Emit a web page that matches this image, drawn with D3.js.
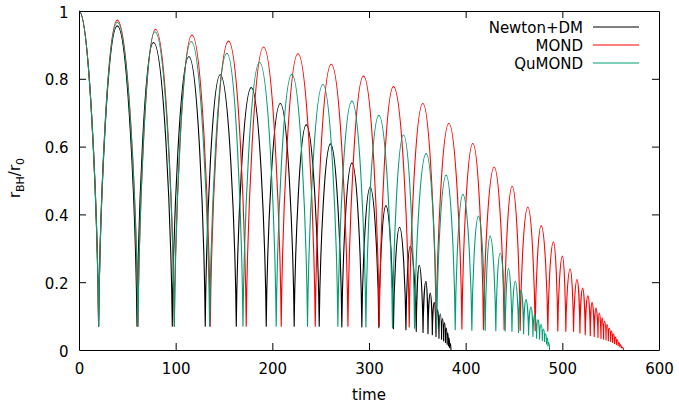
<!DOCTYPE html>
<html><head><meta charset="utf-8">
<script src="https://cdn.jsdelivr.net/npm/d3@7"></script>
<style>
body{margin:0;background:#fff}
svg{display:block}
text{font-family:"DejaVu Sans",sans-serif;font-size:15px;fill:#000}
</style>
</head><body>
<svg id="chart" width="679" height="403"></svg>
<script>
// ---- data ----
const xTicks = [0, 100, 200, 300, 400, 500, 600];
const yTicks = [0, 0.2, 0.4, 0.6, 0.8, 1];
const yTickLabels = ["0", "0.2", "0.4", "0.6", "0.8", "1"];
const seriesNames = ["Newton+DM", "MOND", "QuMOND"];
const seriesColors = ["#000000", "#ff0000", "#009e73"];

// Newton+DM : peaks and troughs (time, r_BH/r_0)
const newtonPeakT = [0, 39.6, 77.1, 113.7, 146.1, 178.2, 208.2, 235.1, 260.2, 282.3, 301.2, 317.5, 331.6, 342.6, 352.0, 358.9, 363.4, 367.5, 370.9, 373.7, 376.1, 378.2, 380.0, 381.5, 382.9, 383.9];
const newtonPeakR = [1, 0.956, 0.907, 0.865, 0.812, 0.774, 0.727, 0.664, 0.608, 0.552, 0.480, 0.426, 0.362, 0.306, 0.250, 0.203, 0.168, 0.141, 0.119, 0.106, 0.092, 0.080, 0.065, 0.050, 0.035, 0.020];
const newtonTroughT = [20.3, 60, 96.5, 130.6, 162.7, 193.7, 222.6, 248.5, 271.9, 292.6, 310.2, 325.3, 338.2, 348.9, 355.9, 361.0, 365.5, 369.3, 372.4, 375.1, 377.2, 379.1, 380.8, 382.2, 383.4, 384.8];
const newtonTroughR = [0.07, 0.07, 0.07, 0.07, 0.07, 0.07, 0.07, 0.07, 0.068, 0.068, 0.066, 0.063, 0.060, 0.055, 0.052, 0.048, 0.045, 0.040, 0.035, 0.032, 0.027, 0.022, 0.017, 0.012, 0.007, 0];

// MOND
const mondPeakT = [0, 39.6, 79.2, 116.9, 154.7, 190.9, 226.5, 260.9, 294.3, 325.3, 355.7, 382.6, 407.4, 429.5, 448.1, 464.3, 478.1, 490.8, 500.1, 508.1, 515.2, 521.0, 526.5, 530.7, 534.8, 538.2, 541.0, 543.7, 546.2, 548.6, 550.8, 553.0, 555.0, 556.8, 558.6, 560.2, 561.8];
const mondPeakR = [1, 0.973, 0.946, 0.929, 0.911, 0.894, 0.874, 0.843, 0.808, 0.777, 0.727, 0.668, 0.609, 0.540, 0.483, 0.422, 0.367, 0.319, 0.277, 0.239, 0.208, 0.183, 0.160, 0.141, 0.124, 0.109, 0.095, 0.085, 0.075, 0.065, 0.056, 0.047, 0.038, 0.030, 0.022, 0.015, 0.008];
const mondTroughT = [20.3, 61, 98.6, 135.8, 173, 209.2, 244.4, 278.2, 310.6, 341.6, 369.5, 396.1, 418.4, 439.8, 456.4, 471.9, 485, 495.3, 503.6, 511.6, 518.2, 523.7, 528.9, 533.0, 536.9, 540.0, 542.7, 545.2, 547.6, 550.0, 552.0, 554.0, 555.9, 557.7, 559.4, 561.0, 563.4];
const mondTroughR = [0.07, 0.07, 0.07, 0.07, 0.07, 0.07, 0.07, 0.07, 0.07, 0.068, 0.066, 0.062, 0.060, 0.060, 0.058, 0.057, 0.056, 0.056, 0.055, 0.055, 0.050, 0.045, 0.042, 0.040, 0.037, 0.034, 0.032, 0.030, 0.027, 0.025, 0.022, 0.019, 0.016, 0.013, 0.010, 0.006, 0];

// QuMOND
const qumondPeakT = [0, 39.6, 78.6, 116.1, 153, 186.8, 220.2, 252.3, 282.3, 310.2, 335.7, 359.2, 379.8, 397.1, 413.2, 425.3, 435.7, 444.3, 451.3, 457.2, 462.4, 467.6, 471.3, 474.8, 478.0, 480.6, 482.7, 484.4, 485.7];
const qumondPeakR = [1, 0.967, 0.939, 0.910, 0.875, 0.848, 0.813, 0.783, 0.734, 0.692, 0.634, 0.580, 0.516, 0.459, 0.395, 0.336, 0.286, 0.240, 0.203, 0.177, 0.149, 0.127, 0.104, 0.089, 0.075, 0.062, 0.048, 0.035, 0.022];
const qumondTroughT = [20.3, 61, 98.6, 135.1, 169.6, 204, 236.4, 267.8, 296.8, 324.3, 347.1, 370, 389.2, 406.4, 420.2, 431.2, 440.9, 447.9, 454.7, 459.9, 465.1, 469.6, 473.4, 476.5, 479.3, 481.6, 483.6, 485.1, 486.8];
const qumondTroughR = [0.07, 0.07, 0.07, 0.07, 0.07, 0.07, 0.07, 0.07, 0.068, 0.066, 0.064, 0.062, 0.060, 0.058, 0.058, 0.057, 0.056, 0.055, 0.052, 0.048, 0.044, 0.040, 0.035, 0.032, 0.028, 0.025, 0.018, 0.012, 0];

// ---- chart ----
const svg = d3.select("#chart");
const x = d3.scaleLinear().domain([0, 600]).range([79, 659]);
const y = d3.scaleLinear().domain([0, 1]).range([350, 11]);

function arcPath(pt, pr, tt, tr) {
  const pts = [];
  for (let i = 0; i < pt.length; i++) {
    pts.push({t: pt[i], r: pr[i], peak: true});
    if (i < tt.length) pts.push({t: tt[i], r: tr[i], peak: false});
  }
  const a = 0.5, b = 0.4, c = 0.07;
  const p = d3.path();
  p.moveTo(x(pts[0].t), y(pts[0].r));
  for (let i = 1; i < pts.length; i++) {
    const A = pts[i - 1], B = pts[i];
    const xA = x(A.t), yA = y(A.r), xB = x(B.t), yB = y(B.r), dx = xB - xA;
    if (A.peak) p.bezierCurveTo(xA + a * dx, yA, xB - c * dx, yB + b * (yA - yB), xB, yB);
    else p.bezierCurveTo(xA + c * dx, yA + b * (yB - yA), xB - a * dx, yB, xB, yB);
  }
  return p.toString();
}

const series = [
  [newtonPeakT, newtonPeakR, newtonTroughT, newtonTroughR],
  [mondPeakT, mondPeakR, mondTroughT, mondTroughR],
  [qumondPeakT, qumondPeakR, qumondTroughT, qumondTroughR]
];

const plot = svg.append("g");
series.forEach((s, i) => {
  plot.append("path")
    .attr("d", arcPath(s[0], s[1], s[2], s[3]))
    .attr("fill", "none")
    .attr("stroke", seriesColors[i])
    .attr("stroke-width", 1.1)
    .attr("stroke-linejoin", "round");
});

// axes (gnuplot style, inward ticks on all sides)
const gB = svg.append("g").attr("transform", "translate(0,350)")
  .call(d3.axisBottom(x).tickValues(xTicks).tickFormat(d3.format("d")).tickSizeInner(-7).tickSizeOuter(0).tickPadding(13.5));
const gT = svg.append("g").attr("transform", "translate(0,11)")
  .call(d3.axisTop(x).tickValues(xTicks).tickFormat("").tickSizeInner(-7).tickSizeOuter(0));
const gL = svg.append("g").attr("transform", "translate(79,0)")
  .call(d3.axisLeft(y).tickValues(yTicks).tickFormat((d, i) => yTickLabels[i]).tickSizeInner(-7).tickSizeOuter(0).tickPadding(10.5));
const gR = svg.append("g").attr("transform", "translate(659,0)")
  .call(d3.axisRight(y).tickValues(yTicks).tickFormat("").tickSizeInner(-7).tickSizeOuter(0));

[gB, gT, gL, gR].forEach(g => {
  g.selectAll("path.domain").attr("stroke", "#000").attr("stroke-width", 1);
  g.selectAll(".tick line").attr("stroke", "#000").attr("stroke-width", 1);
  g.selectAll(".tick text").attr("font-family", "DejaVu Sans, sans-serif").attr("font-size", 15).attr("fill", "#000");
});
gL.selectAll(".tick text").attr("dy", "0.4em");
// remove end ticks that coincide with frame edges
gT.selectAll(".tick").filter(d => d === 0 || d === 600).remove();
gB.selectAll(".tick line").filter(d => d === 0 || d === 600).remove();
gL.selectAll(".tick line").filter(d => d === 0 || d === 1).remove();
gR.selectAll(".tick").filter(d => d === 0 || d === 1).remove();

// axis titles
svg.append("text").attr("x", 369).attr("y", 400).attr("text-anchor", "middle").text("time");
const yl = svg.append("text").attr("transform", "translate(20,178) rotate(-90)").attr("text-anchor", "middle");
yl.append("tspan").text("r");
yl.append("tspan").attr("dy", 4).attr("font-size", 11).text("BH");
yl.append("tspan").attr("dy", -4).text("/r");
yl.append("tspan").attr("dy", 4).attr("font-size", 11).text("0");

// legend
const leg = svg.append("g");
seriesNames.forEach((n, i) => {
  const yy = 27 + i * 18;
  leg.append("text").attr("x", 583).attr("y", yy + 5.5).attr("text-anchor", "end").text(n);
  leg.append("line").attr("x1", 593).attr("x2", 639).attr("y1", yy).attr("y2", yy)
    .attr("stroke", seriesColors[i]).attr("stroke-width", 1.1);
});
</script>
</body></html>
